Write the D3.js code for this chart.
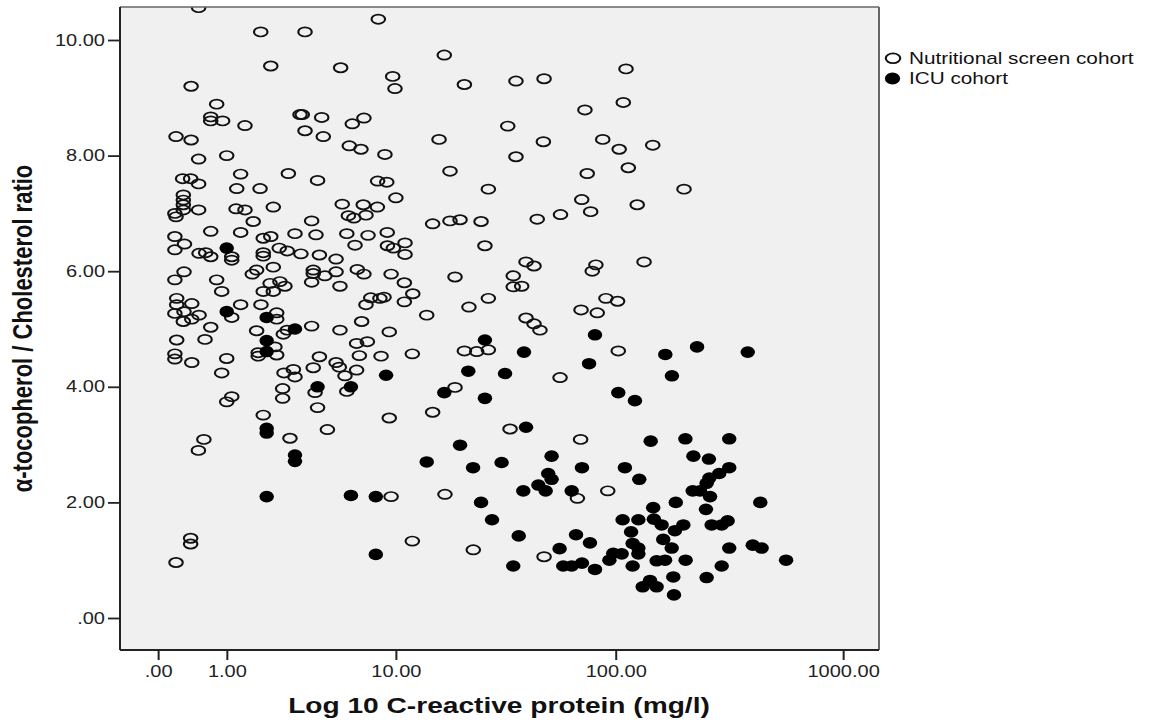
<!DOCTYPE html>
<html><head><meta charset="utf-8">
<script src="https://cdn.jsdelivr.net/npm/d3@7"></script>
<style>html,body{margin:0;padding:0;background:#fff;} svg{display:block;}</style>
</head><body>
<svg id="chart"></svg>
<script>
// x values: log10(CRP + 1), CRP in mg/l ; y values: alpha-tocopherol / cholesterol ratio
const nutritionLogCRP = [
0.178,0.450,0.644,0.494,0.145,0.257,0.231,0.231,0.283,0.381,0.622,0.632,0.644,0.079,0.145,0.178,0.301,0.108,0.143,0.178,
0.362,0.571,0.345,0.447,0.111,0.111,0.111,0.111,0.074,0.079,0.178,0.342,0.381,0.505,0.417,0.231,0.362,0.461,0.494,0.074,
0.116,0.074,0.180,0.209,0.231,0.323,0.323,0.461,0.461,0.531,0.566,0.626,0.074,0.114,0.257,0.279,0.413,0.432,0.505,0.491,
0.534,0.556,0.461,0.505,0.082,0.082,0.074,0.148,0.114,0.148,0.111,0.180,0.323,0.362,0.231,0.206,0.451,0.520,0.520,0.432,
0.549,0.566,0.082,0.512,0.439,0.439,0.520,0.074,0.074,0.148,0.301,0.279,0.552,0.593,0.600,0.546,0.546,0.323,0.301,0.461,
0.578,0.201,0.177,0.143,0.143,0.079,0.965,1.254,0.800,1.028,1.038,1.342,1.568,1.691,0.717,0.851,0.902,0.724,0.838,0.889,
0.994,1.532,1.688,1.568,1.231,0.699,0.962,1.002,1.279,1.447,1.042,0.807,0.899,0.961,0.834,0.858,0.911,0.673,0.600,0.692,
0.827,0.920,1.004,0.863,1.005,1.031,1.082,1.082,1.203,1.279,1.323,1.415,1.432,1.661,1.763,2.050,2.038,1.870,1.948,2.020,
2.167,2.060,1.880,2.304,1.856,1.895,2.099,0.707,0.780,0.680,0.680,0.731,0.780,0.873,0.902,0.673,0.797,1.021,1.079,1.301,
1.612,1.647,1.556,1.556,1.593,1.116,0.932,0.911,0.972,0.990,1.079,1.177,1.362,1.447,1.612,1.647,1.673,1.853,0.673,0.797,
0.892,1.013,0.870,0.917,0.882,0.977,1.114,0.707,0.780,0.794,0.819,0.680,0.870,0.688,0.827,0.699,0.742,1.013,1.203,1.301,
1.342,1.396,1.447,1.761,1.542,1.918,1.902,2.129,1.962,2.013,1.924,2.016,1.851,1.021,1.257,1.114,1.381,1.691,1.837,1.970
];
const nutritionRatio = [
10.56,10.14,10.14,9.55,9.20,8.89,8.67,8.60,8.60,8.52,8.71,8.71,8.43,8.33,8.27,7.94,8.00,7.60,7.60,7.51,
7.68,7.69,7.43,7.43,7.32,7.23,7.15,7.06,7.00,6.94,7.06,7.08,7.06,7.11,6.86,6.69,6.67,6.57,6.60,6.60,
6.47,6.37,6.31,6.32,6.25,6.25,6.19,6.32,6.26,6.40,6.35,6.30,5.85,5.99,5.85,5.65,5.95,6.02,6.07,5.79,
5.82,5.74,5.65,5.65,5.53,5.42,5.27,5.44,5.30,5.17,5.13,5.24,5.20,5.42,5.03,4.82,5.42,5.28,5.17,4.97,
4.91,4.98,4.81,4.69,4.59,4.53,4.55,4.57,4.48,4.42,4.49,4.24,4.24,4.30,4.17,3.97,3.80,3.83,3.74,3.51,
3.11,3.09,2.90,1.38,1.28,0.96,10.36,9.74,9.52,9.37,9.16,9.23,9.29,9.33,8.66,8.55,8.65,8.33,8.17,8.11,
8.02,8.51,8.24,7.98,8.28,7.57,7.56,7.54,7.73,7.42,7.27,7.16,7.15,7.11,6.96,6.92,6.97,6.87,6.65,6.63,
6.65,6.62,6.67,6.45,6.44,6.40,6.49,6.29,6.82,6.87,6.89,6.86,6.44,6.90,6.98,9.50,8.92,8.79,8.28,8.11,
8.18,7.79,7.69,7.42,7.24,7.03,7.15,6.28,6.21,6.02,5.96,5.92,5.99,6.03,5.95,5.81,5.74,5.95,5.80,5.90,
6.16,6.09,5.92,5.73,5.74,5.61,5.54,5.42,5.53,5.55,5.47,5.24,5.38,5.53,5.19,5.09,4.98,5.33,5.05,4.98,
5.13,4.95,4.75,4.78,4.54,4.53,4.57,4.52,4.42,4.34,4.19,4.33,4.29,3.90,3.92,3.64,3.26,3.46,3.56,3.99,
4.62,4.61,4.64,4.16,3.27,6.11,6.00,6.16,5.53,5.48,5.28,4.62,3.09,2.10,2.14,1.33,1.18,1.06,2.07,2.20
];
const icuLogCRP = [
0.301,0.301,0.476,0.600,0.476,0.476,0.476,0.476,0.600,0.600,0.476,0.699,0.845,0.999,0.845,0.954,0.954,1.177,1.323,1.254,
1.359,1.432,1.520,1.603,1.432,1.612,1.380,1.505,1.724,1.709,1.724,1.666,1.600,1.698,1.812,1.857,1.415,1.463,1.580,1.556,
1.759,1.831,1.775,1.812,1.857,1.914,1.888,2.222,2.361,2.583,2.251,2.016,2.089,2.158,2.310,2.502,2.345,2.413,2.045,2.502,
2.458,2.415,2.403,2.108,2.342,2.374,2.418,2.268,2.400,2.638,2.169,2.035,2.104,2.172,2.206,2.301,2.264,2.425,2.469,2.495,
2.072,1.892,2.213,2.079,2.104,2.104,2.250,2.502,2.605,2.644,1.994,2.031,1.977,2.184,2.221,2.311,2.751,1.914,2.079,2.469,
2.257,2.403,2.155,2.123,2.184,2.260
];
const icuRatio = [
6.40,5.30,5.20,5.00,4.80,4.61,3.28,3.20,2.82,2.71,2.10,4.00,4.00,4.20,2.12,2.10,1.10,2.70,2.99,3.90,
4.27,4.81,4.23,4.60,3.80,3.30,2.60,2.69,2.80,2.50,2.40,2.30,2.20,2.20,2.20,2.60,2.00,1.70,1.42,0.90,
1.20,1.44,0.90,0.90,0.95,4.90,4.40,4.56,4.69,4.60,4.19,3.90,3.76,3.06,3.10,3.10,2.80,2.75,2.60,2.60,
2.50,2.42,2.33,2.40,2.20,2.20,2.10,2.00,1.88,2.00,1.91,1.70,1.70,1.71,1.61,1.61,1.51,1.61,1.61,1.68,
1.49,1.30,1.36,1.29,1.21,1.11,1.21,1.21,1.26,1.21,1.12,1.11,1.00,0.99,1.00,1.00,1.00,0.84,0.90,0.90,
0.71,0.70,0.65,0.54,0.54,0.40
];
const xTickValues = [0, 1, 10, 100, 1000];          // CRP mg/l
const xTickLabels = [".00", "1.00", "10.00", "100.00", "1000.00"];
const yTickValues = [0, 2, 4, 6, 8, 10];
const yTickLabels = [".00", "2.00", "4.00", "6.00", "8.00", "10.00"];
const seriesNames = ["Nutritional screen cohort", "ICU cohort"];
const xTitle = "Log 10 C-reactive protein (mg/l)";
const yTitle = "α-tocopherol / Cholesterol ratio";

(function draw() {
const W = 1154, H = 722, SX = 1.25;
const FONT = "'Liberation Sans', Arial, Helvetica, sans-serif";
const OPEN = { rx: 5.4, ry: 4.6, sw: 1.7 };
const FILLED_R = 5.8;
const svg = d3.select("#chart")
  .attr("width", W).attr("height", H)
  .attr("viewBox", `0 0 ${W / SX} ${H}`)
  .attr("preserveAspectRatio", "none");

const pL = 120 / SX, pR = 879 / SX, pT = 7, pB = 650;
const x = d3.scaleLinear().domain([-0.1664, 3.158]).range([pL, pR]);
const y = d3.scaleLinear().domain([-0.5537, 10.571]).range([pB, pT]);

svg.append("rect").attr("x", pL).attr("y", pT).attr("width", pR - pL).attr("height", pB - pT)
  .attr("fill", "#f0f0f0");

svg.append("clipPath").attr("id", "plotClip").append("rect")
  .attr("x", pL).attr("y", pT).attr("width", pR - pL).attr("height", pB - pT);

const pts = svg.append("g").attr("clip-path", "url(#plotClip)");
pts.selectAll("ellipse.nut").data(d3.range(nutritionLogCRP.length)).join("ellipse")
  .attr("class", "nut")
  .attr("cx", i => x(nutritionLogCRP[i])).attr("cy", i => y(nutritionRatio[i]))
  .attr("rx", OPEN.rx).attr("ry", OPEN.ry)
  .attr("fill", "none").attr("stroke", "#111").attr("stroke-width", OPEN.sw);
pts.selectAll("circle.icu").data(d3.range(icuLogCRP.length)).join("circle")
  .attr("class", "icu")
  .attr("cx", i => x(icuLogCRP[i])).attr("cy", i => y(icuRatio[i]))
  .attr("r", FILLED_R).attr("fill", "#000");

// borders
svg.append("line").attr("x1", pL).attr("x2", pR).attr("y1", pT).attr("y2", pT).attr("stroke", "#666").attr("stroke-width", 1.6);
svg.append("line").attr("x1", pR).attr("x2", pR).attr("y1", pT).attr("y2", pB).attr("stroke", "#666").attr("stroke-width", 1.6);

// axes
const yAxis = d3.axisLeft(y).tickValues(yTickValues).tickFormat((d, i) => yTickLabels[i])
  .tickSize(12 / SX).tickPadding(3 / SX).tickSizeOuter(0);
const gy = svg.append("g").attr("transform", `translate(${pL},0)`).call(yAxis);
gy.select(".domain").remove();
gy.selectAll(".tick line").attr("stroke", "#222").attr("stroke-width", 1.8);
gy.selectAll(".tick text").attr("font-family", FONT).attr("font-size", 16).attr("fill", "#222");

const xAxis = d3.axisBottom(x).tickValues(xTickValues.map(t => Math.log10(1 + t)))
  .tickFormat((d, i) => xTickLabels[i]).tickSize(10).tickPadding(5.6).tickSizeOuter(0);
const gx = svg.append("g").attr("transform", `translate(0,${pB})`).call(xAxis);
gx.select(".domain").remove();
gx.selectAll(".tick line").attr("stroke", "#222").attr("stroke-width", 1.6);
gx.selectAll(".tick text").attr("font-family", FONT).attr("font-size", 16).attr("fill", "#222");

svg.append("line").attr("x1", pL).attr("x2", pL).attr("y1", pT).attr("y2", pB).attr("stroke", "#222").attr("stroke-width", 1.6);
svg.append("line").attr("x1", pL).attr("x2", pR).attr("y1", pB).attr("y2", pB).attr("stroke", "#222").attr("stroke-width", 1.8);

// titles
svg.append("text").attr("x", 499 / SX).attr("y", 713).attr("text-anchor", "middle")
  .attr("font-family", FONT).attr("font-weight", "bold").attr("font-size", 22.5).attr("fill", "#111")
  .text(xTitle);
svg.append("text").attr("transform", `translate(${32 / SX},328.5) rotate(-90)`).attr("text-anchor", "middle")
  .attr("font-family", FONT).attr("font-weight", "bold").attr("font-size", 22).attr("fill", "#111")
  .text(yTitle);

// legend
const lg = svg.append("g");
const legY = [58.3, 78.5];
lg.append("ellipse").attr("cx", 893 / SX).attr("cy", legY[0]).attr("rx", OPEN.rx + 0.4).attr("ry", OPEN.ry + 0.3)
  .attr("fill", "none").attr("stroke", "#111").attr("stroke-width", OPEN.sw);
lg.append("circle").attr("cx", 892.5 / SX).attr("cy", legY[1]).attr("r", FILLED_R + 0.3).attr("fill", "#000");
seriesNames.forEach((s, i) => {
  lg.append("text").attr("x", 909 / SX).attr("y", legY[i] + 5.8)
    .attr("font-family", FONT).attr("font-size", 16.6).attr("fill", "#111").text(s);
});
})();
</script>
</body></html>
